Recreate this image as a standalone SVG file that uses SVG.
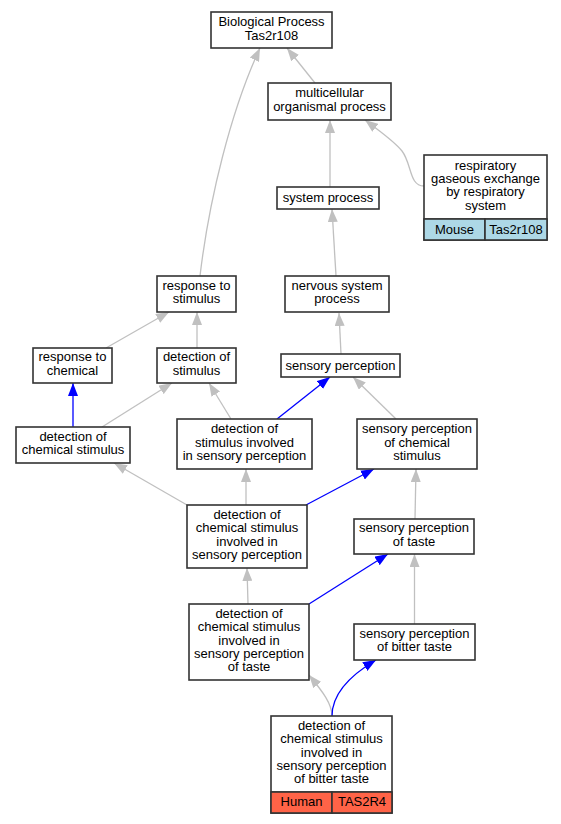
<svg xmlns="http://www.w3.org/2000/svg" width="561" height="824" viewBox="0 0 561 824">
<defs>
<style>
.n rect{fill:#fff;stroke:#333;stroke-width:1.6}
.n line{stroke:#333;stroke-width:1.6}
text{font-family:"Liberation Sans",Arial,sans-serif;font-size:13px;fill:#000;text-anchor:middle}
.g{fill:none;stroke:#c0c0c0;stroke-width:1.3}
.b{fill:none;stroke:#0000ff;stroke-width:1.3}
.n rect.mouse{fill:#add8e6}
.n rect.human{fill:#ff6347}
</style>
<marker id="ag" viewBox="0 0 13 10" refX="13" refY="5" markerWidth="13" markerHeight="10" markerUnits="userSpaceOnUse" orient="auto"><path d="M0,0L13,5L0,10z" fill="#c0c0c0"/></marker>
<marker id="ab" viewBox="0 0 13 10" refX="13" refY="5" markerWidth="13" markerHeight="10" markerUnits="userSpaceOnUse" orient="auto"><path d="M0,0L13,5L0,10z" fill="#0000ff"/></marker>
</defs>
<rect width="561" height="824" fill="#fff"/>
<g id="edges">
<path class="g" marker-end="url(#ag)" d="M200,276 C209,200 231,110 260,48"/>
<path class="g" marker-end="url(#ag)" d="M315,83 L287,48"/>
<path class="g" marker-end="url(#ag)" d="M330,187 L330,120"/>
<path class="g" marker-end="url(#ag)" d="M424,186 C409,186 412,164 402,151 C394,141 382,133 365,120"/>
<path class="g" marker-end="url(#ag)" d="M336,276 L332,209"/>
<path class="g" marker-end="url(#ag)" d="M341,354 L339,313"/>
<path class="g" marker-end="url(#ag)" d="M106,348 L169,312"/>
<path class="g" marker-end="url(#ag)" d="M197,348 L197,312"/>
<path class="b" marker-end="url(#ab)" d="M73,427 L73,383"/>
<path class="g" marker-end="url(#ag)" d="M102,427 L172,383"/>
<path class="g" marker-end="url(#ag)" d="M231,419 L209,383"/>
<path class="b" marker-end="url(#ab)" d="M277,419 L330,377"/>
<path class="g" marker-end="url(#ag)" d="M396,419 L353,377"/>
<path class="g" marker-end="url(#ag)" d="M187,505 L114,463"/>
<path class="g" marker-end="url(#ag)" d="M246,505 L246,469"/>
<path class="b" marker-end="url(#ab)" d="M306,505 L374,469"/>
<path class="g" marker-end="url(#ag)" d="M415,519 L416,469"/>
<path class="g" marker-end="url(#ag)" d="M248,604 L247,568"/>
<path class="b" marker-end="url(#ab)" d="M309,604 L388,554"/>
<path class="g" marker-end="url(#ag)" d="M414.5,624 L414.5,554"/>
<path class="g" marker-end="url(#ag)" d="M332,716 C332,704 323,692 309,675"/>
<path class="b" marker-end="url(#ab)" d="M332,716 C332,695 349,676 376,660"/>
</g>
<g id="bio" class="n"><rect x="211" y="12" width="121" height="36"/><text x="271.5" y="26.3">Biological Process</text><text x="271.5" y="39.6">Tas2r108</text></g>
<g id="multicellular" class="n"><rect x="268" y="83" width="123" height="37"/><text x="329.5" y="97.4">multicellular</text><text x="329.5" y="110.7">organismal process</text></g>
<g id="respiratory" class="n"><rect x="424" y="155" width="123" height="85"/><line x1="424" y1="219" x2="547" y2="219"/>
<text x="485.5" y="169.6">respiratory</text><text x="485.5" y="182.9">gaseous exchange</text><text x="485.5" y="196.2">by respiratory</text><text x="485.5" y="209.5">system</text>
<rect class="mouse" x="424" y="219" width="61" height="21"/><rect class="mouse" x="485" y="219" width="62" height="21"/><text x="454.5" y="233.5">Mouse</text><text x="516" y="233.5">Tas2r108</text></g>
<g id="system" class="n"><rect x="277" y="187" width="102" height="22"/><text x="328" y="202">system process</text></g>
<g id="response-stimulus" class="n"><rect x="157" y="276" width="79" height="36"/><text x="196.5" y="289.9">response to</text><text x="196.5" y="303.2">stimulus</text></g>
<g id="nervous" class="n"><rect x="285" y="276" width="104" height="36"/><text x="337" y="289.9">nervous system</text><text x="337" y="303.2">process</text></g>
<g id="response-chemical" class="n"><rect x="33" y="348" width="79" height="35"/><text x="72.5" y="361.4">response to</text><text x="72.5" y="374.7">chemical</text></g>
<g id="detection-stimulus" class="n"><rect x="157" y="348" width="79" height="35"/><text x="196.5" y="361.4">detection of</text><text x="196.5" y="374.7">stimulus</text></g>
<g id="sensory" class="n"><rect x="281" y="354" width="119" height="23"/><text x="340.5" y="369.5">sensory perception</text></g>
<g id="det-chem" class="n"><rect x="16" y="427" width="114" height="36"/><text x="73" y="440.9">detection of</text><text x="73" y="454.2">chemical stimulus</text></g>
<g id="det-stim-inv" class="n"><rect x="177" y="419" width="135" height="50"/><text x="244.5" y="433.2">detection of</text><text x="244.5" y="446.5">stimulus involved</text><text x="244.5" y="459.8">in sensory perception</text></g>
<g id="sp-chem" class="n"><rect x="357" y="419" width="120" height="50"/><text x="417" y="433.2">sensory perception</text><text x="417" y="446.5">of chemical</text><text x="417" y="459.8">stimulus</text></g>
<g id="det-chem-inv" class="n"><rect x="187" y="505" width="120" height="63"/><text x="247" y="519.1">detection of</text><text x="247" y="532.4">chemical stimulus</text><text x="247" y="545.7">involved in</text><text x="247" y="559">sensory perception</text></g>
<g id="sp-taste" class="n"><rect x="354" y="519" width="120" height="35"/><text x="414" y="532.4">sensory perception</text><text x="414" y="545.7">of taste</text></g>
<g id="det-taste" class="n"><rect x="189" y="604" width="120" height="76"/><text x="249" y="617.9">detection of</text><text x="249" y="631.2">chemical stimulus</text><text x="249" y="644.5">involved in</text><text x="249" y="657.8">sensory perception</text><text x="249" y="671.1">of taste</text></g>
<g id="sp-bitter" class="n"><rect x="354" y="624" width="121" height="36"/><text x="414.5" y="637.9">sensory perception</text><text x="414.5" y="651.2">of bitter taste</text></g>
<g id="det-bitter" class="n"><rect x="271" y="716" width="121" height="97"/><line x1="271" y1="792" x2="392" y2="792"/>
<text x="331.5" y="729.9">detection of</text><text x="331.5" y="743.2">chemical stimulus</text><text x="331.5" y="756.5">involved in</text><text x="331.5" y="769.8">sensory perception</text><text x="331.5" y="783.1">of bitter taste</text>
<rect class="human" x="271" y="792" width="61" height="21"/><rect class="human" x="332" y="792" width="60" height="21"/><text x="301.5" y="805.5">Human</text><text x="362" y="805.5">TAS2R4</text></g>
</svg>
